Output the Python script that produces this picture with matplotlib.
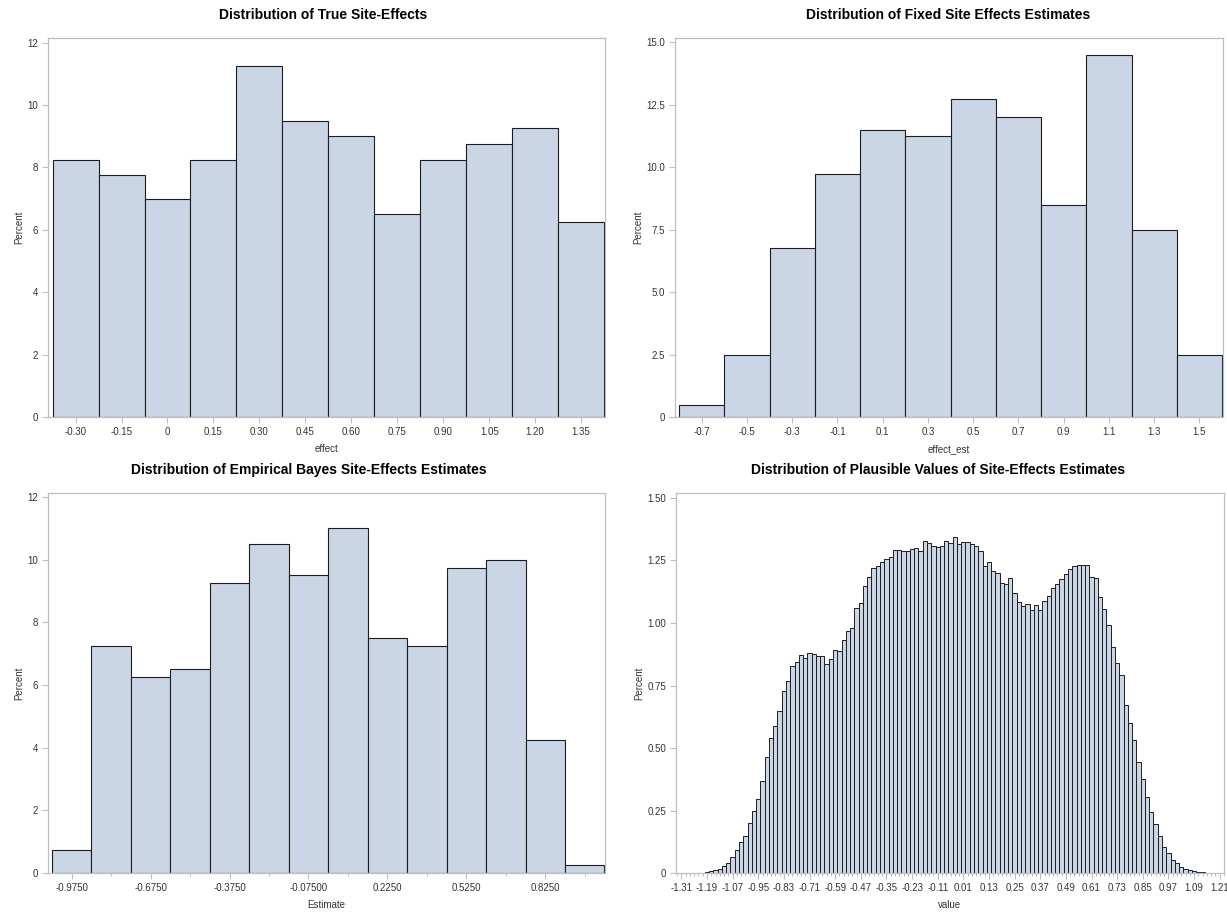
import matplotlib
matplotlib.use("Agg")
import matplotlib.pyplot as plt
import numpy as np

plt.rcParams['font.family'] = ['Liberation Sans', 'DejaVu Sans']

# ---------------------------------------------------------------- data
# Distribution of true site effects (percent per bin)
effect_centers = [-0.30, -0.15, 0.0, 0.15, 0.30, 0.45, 0.60, 0.75, 0.90, 1.05, 1.20, 1.35]
effect_pct = [8.25, 7.75, 7.00, 8.25, 11.25, 9.50, 9.00, 6.50, 8.25, 8.75, 9.25, 6.25]
effect_ticklabels = ['-0.30', '-0.15', '0', '0.15', '0.30', '0.45', '0.60',
                     '0.75', '0.90', '1.05', '1.20', '1.35']

# Fixed site effects estimates
est_centers = [-0.7, -0.5, -0.3, -0.1, 0.1, 0.3, 0.5, 0.7, 0.9, 1.1, 1.3, 1.5]
est_pct = [0.50, 2.50, 6.75, 9.75, 11.50, 11.25, 12.75, 12.00, 8.50, 14.50, 7.50, 2.50]
est_ticklabels = ['-0.7', '-0.5', '-0.3', '-0.1', '0.1', '0.3', '0.5',
                  '0.7', '0.9', '1.1', '1.3', '1.5']

# Empirical Bayes estimates
eb_centers = [-0.975, -0.825, -0.675, -0.525, -0.375, -0.225, -0.075,
              0.075, 0.225, 0.375, 0.525, 0.675, 0.825, 0.975]
eb_pct = [0.75, 7.25, 6.25, 6.50, 9.25, 10.50, 9.50,
          11.00, 7.50, 7.25, 9.75, 10.00, 4.25, 0.25]
eb_tickvals = [-0.975, -0.675, -0.375, -0.075, 0.225, 0.525, 0.825]
eb_ticklabels = ['-0.9750', '-0.6750', '-0.3750', '-0.07500', '0.2250', '0.5250', '0.8250']

# Plausible values (bins of width 0.02 starting at -1.21)
pv_first_center = -1.21
pv_bin_width = 0.02
pv_pct = [
    0.002, 0.003, 0.007, 0.011, 0.017, 0.029, 0.042, 0.066, 0.093, 0.123,
    0.148, 0.202, 0.248, 0.298, 0.370, 0.464, 0.540, 0.590, 0.647, 0.727,
    0.767, 0.827, 0.843, 0.873, 0.860, 0.880, 0.876, 0.867, 0.867, 0.836,
    0.856, 0.891, 0.887, 0.931, 0.967, 0.981, 1.060, 1.080, 1.147, 1.183,
    1.220, 1.227, 1.243, 1.257, 1.263, 1.293, 1.293, 1.287, 1.289, 1.296,
    1.300, 1.289, 1.327, 1.320, 1.307, 1.304, 1.307, 1.327, 1.320, 1.343,
    1.316, 1.324, 1.323, 1.316, 1.309, 1.287, 1.227, 1.243, 1.207, 1.200,
    1.160, 1.157, 1.179, 1.120, 1.085, 1.067, 1.077, 1.051, 1.073, 1.053,
    1.087, 1.107, 1.139, 1.155, 1.177, 1.195, 1.217, 1.227, 1.231, 1.231,
    1.231, 1.184, 1.179, 1.103, 1.056, 0.991, 0.903, 0.841, 0.791, 0.673,
    0.602, 0.533, 0.445, 0.376, 0.306, 0.243, 0.196, 0.148, 0.105, 0.080,
    0.052, 0.040, 0.024, 0.016, 0.011, 0.007, 0.004, 0.003,
]
pv_centers = pv_first_center + pv_bin_width * np.arange(len(pv_pct))
pv_tickvals = [-1.31, -1.19, -1.07, -0.95, -0.83, -0.71, -0.59, -0.47, -0.35, -0.23, -0.11,
               0.01, 0.13, 0.25, 0.37, 0.49, 0.61, 0.73, 0.85, 0.97, 1.09, 1.21]
pv_ticklabels = ['-1.31', '-1.19', '-1.07', '-0.95', '-0.83', '-0.71', '-0.59', '-0.47',
                 '-0.35', '-0.23', '-0.11', '0.01', '0.13', '0.25', '0.37', '0.49',
                 '0.61', '0.73', '0.85', '0.97', '1.09', '1.21']
pv_minor = [-1.33 + 0.02 * i for i in range(129)]

# ---------------------------------------------------------------- style
W, H = 1227, 913
FILL = '#CAD5E5'
EDGE = '#1E1E1E'
FRAME = '#B9BFC7'
TEXT = '#333333'
FS = 7

fig = plt.figure(figsize=(W / 100, H / 100), dpi=100)


def add_ax(left, top, right, bottom):
    return fig.add_axes([left / W, 1 - bottom / H, (right - left) / W, (bottom - top) / H])


def style(ax):
    for s in ax.spines.values():
        s.set_color(FRAME)
        s.set_linewidth(0.9)
    ax.tick_params(axis='both', which='major', direction='out', length=4, width=0.8,
                   color=FRAME, labelcolor=TEXT, labelsize=FS, pad=3)
    ax.tick_params(axis='x', which='minor', direction='out', length=2.5, width=0.7,
                   color=FRAME)


def hist(ax, centers, pct, width, lw=0.8):
    ax.bar(centers, pct, width=width, color=FILL, edgecolor=EDGE,
           linewidth=lw, align='center', zorder=2)


def labels(ax, xlabel):
    ax.set_xlabel(xlabel, fontsize=FS, color=TEXT, labelpad=5)
    ax.set_ylabel('Percent', fontsize=FS, color=TEXT, labelpad=2.5)


# ---------------------------------------------------------------- panel 1
ax1 = add_ax(48, 38, 605, 417)
hist(ax1, effect_centers, effect_pct, 0.15)
ax1.set_xlim(-0.390, 1.428)
ax1.set_ylim(0, 12.15)
ax1.set_xticks(effect_centers)
ax1.set_xticklabels(effect_ticklabels)
ax1.set_yticks([0, 2, 4, 6, 8, 10, 12])
ax1.set_yticklabels(['0', '2', '4', '6', '8', '10', '12'])
labels(ax1, 'effect')
style(ax1)

# ---------------------------------------------------------------- panel 2
ax2 = add_ax(675, 38, 1223, 417)
hist(ax2, est_centers, est_pct, 0.2)
ax2.set_xlim(-0.818, 1.604)
ax2.set_ylim(0, 15.18)
ax2.set_xticks(est_centers)
ax2.set_xticklabels(est_ticklabels)
ax2.set_yticks([0, 2.5, 5, 7.5, 10, 12.5, 15])
ax2.set_yticklabels(['0', '2.5', '5.0', '7.5', '10.0', '12.5', '15.0'])
labels(ax2, 'effect_est')
style(ax2)

# ---------------------------------------------------------------- panel 3
ax3 = add_ax(48, 493, 605, 873)
hist(ax3, eb_centers, eb_pct, 0.15)
ax3.set_xlim(-1.065, 1.052)
ax3.set_ylim(0, 12.13)
ax3.set_xticks(eb_tickvals)
ax3.set_xticklabels(eb_ticklabels)
ax3.set_xticks(eb_centers, minor=True)
ax3.set_yticks([0, 2, 4, 6, 8, 10, 12])
ax3.set_yticklabels(['0', '2', '4', '6', '8', '10', '12'])
labels(ax3, 'Estimate')
style(ax3)

# ---------------------------------------------------------------- panel 4
ax4 = add_ax(676, 493, 1224, 873)
hist(ax4, pv_centers, pv_pct, pv_bin_width, lw=0.7)
ax4.set_xlim(-1.335, 1.225)
ax4.set_ylim(0, 1.52)
ax4.set_xticks(pv_tickvals)
ax4.set_xticklabels(pv_ticklabels)
ax4.set_xticks(pv_minor, minor=True)
ax4.set_yticks([0, 0.25, 0.5, 0.75, 1.0, 1.25, 1.5])
ax4.set_yticklabels(['0', '0.25', '0.50', '0.75', '1.00', '1.25', '1.50'])
labels(ax4, 'value')
style(ax4)

# ---------------------------------------------------------------- titles
title_kw = dict(fontsize=10, fontweight='bold', color='black', ha='center', va='center')
fig.text(323 / W, 1 - 15 / H, 'Distribution of True Site-Effects', **title_kw)
fig.text(948 / W, 1 - 15 / H, 'Distribution of Fixed Site Effects Estimates', **title_kw)
fig.text(309 / W, 1 - 470 / H, 'Distribution of Empirical Bayes Site-Effects Estimates', **title_kw)
fig.text(938 / W, 1 - 470 / H, 'Distribution of Plausible Values of Site-Effects Estimates', **title_kw)

fig.savefig('out.png', dpi=100)
